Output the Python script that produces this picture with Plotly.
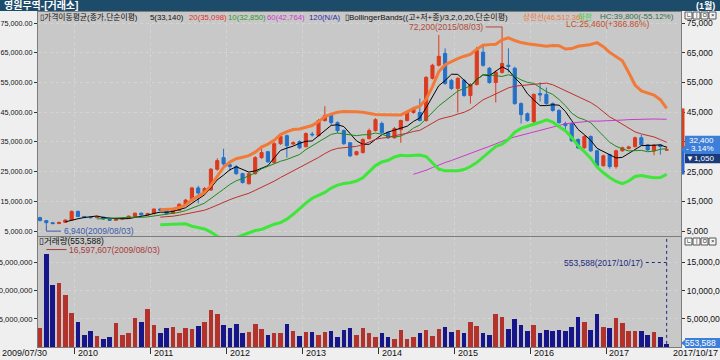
import numpy as np
import pandas as pd
import plotly.graph_objects as go

# ---------------- data ----------------
months = pd.period_range("2009-07", "2017-10", freq="M").strftime("%Y/%m").tolist()

opens = [9500, 8500, 7800, 7500, 7900, 8700, 11600, 9900, 9600, 9500,
         9700, 9000, 8600, 9000, 9300, 9800, 11000, 10400, 10800, 12400,
         11800, 10900, 11900, 13900, 15200, 19500, 17800, 18800, 25800, 29700,
         27300, 26700, 24300, 20900, 24300, 29700, 31700, 28000, 34400, 37100,
         34300, 35100, 33400, 37600, 37100, 42200, 43900, 41500, 38800, 34700,
         30700, 31400, 36100, 38800, 41200, 38100, 36400, 39100, 42200, 44900,
         44900, 42200, 56400, 60800, 64800, 55700, 53000, 55700, 50600, 54300,
         65200, 59800, 55000, 58400, 60800, 59800, 47900, 44500, 41800, 51300,
         51000, 47900, 45600, 41200, 41200, 35800, 33000, 36800, 32000, 27000,
         30700, 26700, 32000, 32800, 33400, 36400, 34000, 32000, 34000, 32200]
highs = [9800, 8700, 8000, 8100, 8900, 11900, 11900, 10000, 9800, 9900,
         9800, 9200, 9200, 9500, 10200, 11200, 11200, 11100, 12600, 12800,
         12000, 12200, 14300, 15800, 19900, 20200, 19800, 26200, 29500, 32700,
         28000, 27200, 24600, 24700, 30200, 33700, 32000, 34900, 38000, 37500,
         35200, 35500, 38200, 38400, 42700, 47000, 44400, 41900, 39200, 35000,
         32000, 36200, 39500, 43000, 41800, 38500, 40000, 42500, 45700, 46800,
         49600, 57200, 61300, 71000, 66500, 56200, 56800, 56200, 54800, 67000,
         68000, 60200, 59000, 72200, 66500, 60300, 48300, 44900, 51300, 55000,
         53300, 48300, 46000, 41800, 41500, 36200, 37300, 37200, 32300, 30700,
         31000, 32400, 33400, 33700, 36800, 37400, 34300, 34300, 34200, 33500]
lows = [8300, 6940, 7300, 7400, 7800, 8600, 9700, 9300, 9200, 9300,
        8800, 8400, 8500, 8900, 9200, 9700, 10200, 10300, 10700, 11700,
        10500, 10800, 11700, 13600, 15000, 14300, 17200, 18500, 25300, 27000,
        25200, 23900, 21000, 20700, 24000, 29300, 28000, 27700, 34000, 29700,
        33900, 32600, 33100, 36800, 36900, 41800, 40800, 38000, 34000, 29900,
        30400, 31100, 35800, 38500, 37700, 36000, 36100, 34700, 41900, 44500,
        41900, 41800, 56000, 60400, 54200, 52500, 44900, 50200, 47900, 54000,
        60300, 54600, 48300, 58000, 58400, 47500, 41200, 41800, 40500, 48600,
        47500, 45200, 41100, 39300, 35000, 32600, 32700, 31600, 26600, 26700,
        26000, 26000, 31700, 32500, 33100, 33700, 32000, 30500, 30700, 32000]
closes = [8500, 7800, 7500, 7900, 8700, 11600, 9900, 9600, 9500, 9700,
          9000, 8600, 9000, 9300, 10000, 11000, 10400, 10900, 12400, 12000,
          10800, 11900, 14000, 15400, 19500, 17800, 19300, 25800, 28700, 27600,
          26700, 24300, 21300, 24300, 29700, 31400, 28300, 34400, 36800, 33700,
          34700, 33000, 37800, 37400, 42200, 43900, 41500, 38800, 34400, 30300,
          31700, 35800, 38800, 42500, 38100, 36400, 39500, 42200, 45200, 46200,
          42200, 56700, 60800, 63800, 54700, 53000, 56400, 50600, 54300, 65800,
          60800, 55000, 58400, 61400, 60400, 47900, 44200, 42200, 51000, 50800,
          47900, 45600, 41500, 40500, 35400, 33000, 36800, 32000, 27000, 30300,
          26700, 32000, 33000, 33300, 36400, 34000, 32300, 33800, 33450, 32400]
volumes = [3400000, 16597607, 11000000, 11400000, 9200000, 6100000, 4400000, 2200000, 2900000, 2000000,
           1400000, 1800000, 4200000, 2200000, 2400000, 5100000, 4400000, 6800000, 3900000, 2400000,
           3400000, 3600000, 2500000, 3400000, 3200000, 3700000, 4400000, 6600000, 5800000, 3900000,
           3400000, 4100000, 2400000, 2700000, 4100000, 3200000, 2200000, 2400000, 2500000, 4100000,
           2900000, 2000000, 2700000, 2700000, 2200000, 2700000, 2900000, 1800000, 3000000, 3400000,
           2200000, 3400000, 2500000, 1700000, 2500000, 1800000, 1500000, 3000000, 1400000, 1700000,
           2500000, 3000000, 2000000, 3200000, 3600000, 2700000, 3000000, 2400000, 4400000, 3700000,
           2400000, 2200000, 5900000, 5400000, 3200000, 4900000, 3900000, 2900000, 3900000, 2400000,
           3000000, 2900000, 3000000, 2900000, 3600000, 5400000, 4400000, 3000000, 5900000, 3600000,
           3400000, 5100000, 4200000, 2900000, 2900000, 2900000, 2200000, 2700000, 1800000, 553588]

year_labels = ["2010", "2011", "2012", "2013", "2014", "2015", "2016", "2017"]
first_date_label = "2009/07/30"
last_date_label = "2017/10/17"
price_ticks = [5000, 15000, 25000, 35000, 45000, 55000, 65000, 75000]
volume_ticks = [5000000, 10000000, 15000000]
ma_periods = [5, 10, 20, 60]
legend_items = ["▯가격이동평균(종가,단순이평)", "5(33,140)", "20(35,098)", "10(32,850)", "60(42,764)",
                "120(N/A)", "▯BollingerBands((고+저+종)/3,2,0,20,단순이평)", "상한선(46,512.36)", "하한"]
hc_text = "HC:39,800(-55.12%)"
lc_text = "LC:25,460(+366.86%)"
low_date = "2009/08/03"
high_date = "2015/08/03"
vol_high_date = "2009/08/03"

n = len(months)
for arr in (opens, highs, lows, closes, volumes):
    assert len(arr) == n

# ---------------- indicators ----------------
s_close = pd.Series(closes, dtype=float)
mas = {p: s_close.rolling(p).mean() for p in ma_periods}
tp = (pd.Series(highs, dtype=float) + pd.Series(lows, dtype=float) + s_close) / 3
bb_mid = tp.rolling(20).mean()
bb_sd = tp.rolling(20).std(ddof=0)
bb_up = bb_mid + 2 * bb_sd
bb_lo = bb_mid - 2 * bb_sd

# ---------------- geometry ----------------
W, H = 720, 360
SLOT, X0 = 6.33, 40.0
XL, XR = 38, 681
P_TOP, P_BOT = 12, 236
V_TOP, V_BOT = 237, 347
x_range = [(XL - X0) / SLOT, (XR - X0) / SLOT]
price_range = [5000 - (P_BOT - 231) / 29.7 * 10000, 5000 + (231 - P_TOP) / 29.7 * 10000]
vol_range = [0, (V_BOT - V_TOP) / 5.633 * 1e6]


def px(v):
    return v / W


def py(v):
    return 1 - v / H


def price_py(p):
    return py(P_BOT - (p - price_range[0]) / (price_range[1] - price_range[0]) * (P_BOT - P_TOP))


def vol_py(v):
    return py(V_BOT - (v - vol_range[0]) / (vol_range[1] - vol_range[0]) * (V_BOT - V_TOP))


idx = list(range(n))
year_ticks = [months.index(f"{y}/01") - 0.5 for y in year_labels]

RED, BLUE = "#dc3a1e", "#2470c8"
VRED, VBLUE = "#b4322c", "#16168a"
NUMF = "Liberation Sans, Arial, sans-serif"
KRF = "Liberation Sans, Noto Sans CJK KR, sans-serif"

fig = go.Figure()
fig.add_trace(go.Candlestick(
    x=idx, open=opens, high=highs, low=lows, close=closes,
    increasing=dict(line=dict(color=RED, width=1), fillcolor=RED),
    decreasing=dict(line=dict(color=BLUE, width=1), fillcolor=BLUE),
    whiskerwidth=0, xaxis="x", yaxis="y", hoverinfo="skip", showlegend=False))

ma_colors = {5: "#000000", 10: "#1e8a1e", 20: "#c0302c", 60: "#c83cc8"}
for p in ma_periods:
    fig.add_trace(go.Scatter(x=idx, y=mas[p], mode="lines", line=dict(color=ma_colors[p], width=1),
                             xaxis="x", yaxis="y2", hoverinfo="skip", showlegend=False))
fig.add_trace(go.Scatter(x=idx, y=bb_up, mode="lines", line=dict(color="#f27a38", width=3),
                         xaxis="x", yaxis="y2", hoverinfo="skip", showlegend=False))
fig.add_trace(go.Scatter(x=idx, y=bb_lo, mode="lines", line=dict(color="#3ee63a", width=3),
                         xaxis="x", yaxis="y2", hoverinfo="skip", showlegend=False))

vcolors = [VRED] + [VRED if closes[i] > closes[i - 1] else VBLUE for i in range(1, n)]
fig.add_trace(go.Bar(x=idx, y=volumes, marker=dict(color=vcolors, line=dict(width=0)), width=0.72,
                     xaxis="x2", yaxis="y3", hoverinfo="skip", showlegend=False))
fig.add_trace(go.Scatter(x=idx, y=volumes, mode="lines", line=dict(width=0), opacity=0,
                         xaxis="x2", yaxis="y4", hoverinfo="skip", showlegend=False))

grid = dict(showgrid=True, gridcolor="#d4d4d4", griddash="dot", gridwidth=1)
axline = dict(showline=True, linecolor="#7c7c7c", linewidth=1)
fig.update_layout(
    width=W, height=H, margin=dict(l=0, r=0, t=0, b=0, autoexpand=False),
    paper_bgcolor="#efefef", plot_bgcolor="#c8c8c8", bargap=0,
    font=dict(family=NUMF, size=8, color="#111"),
    xaxis=dict(domain=[px(XL), px(XR)], range=x_range, anchor="y", tickvals=year_ticks,
               showticklabels=False, ticks="", zeroline=False, rangeslider=dict(visible=False),
               mirror=True, automargin=False, **grid, **axline),
    xaxis2=dict(domain=[px(XL), px(XR)], range=x_range, anchor="y3", matches="x", tickvals=year_ticks,
                showticklabels=False, ticks="outside", ticklen=6, tickcolor="#333", zeroline=False,
                mirror=True, automargin=False, **grid, **axline),
    yaxis=dict(domain=[py(P_BOT), py(P_TOP)], range=price_range, anchor="x", side="left",
               tickvals=price_ticks, ticktext=[f"{v:,.2f}" for v in price_ticks],
               ticks="outside", ticklen=3, tickcolor="#333", tickfont=dict(size=7.2, family=NUMF),
               zeroline=False, mirror=True, automargin=False, **grid, **axline),
    yaxis2=dict(range=price_range, overlaying="y", anchor="x", side="right",
                tickvals=price_ticks, ticktext=[f"{v:,}" for v in price_ticks],
                ticks="outside", ticklen=3, tickcolor="#333", tickfont=dict(size=8.5, family=NUMF),
                showgrid=False, zeroline=False, automargin=False),
    yaxis3=dict(domain=[py(V_BOT), py(V_TOP)], range=vol_range, anchor="x2", side="left",
                tickvals=volume_ticks, ticktext=[f"{v:,}" for v in volume_ticks],
                ticks="outside", ticklen=3, tickcolor="#333", tickfont=dict(size=7.6, family=NUMF),
                zeroline=False, mirror=True, automargin=False, **grid, **axline),
    yaxis4=dict(range=vol_range, overlaying="y3", anchor="x2", side="right",
                tickvals=volume_ticks, ticktext=[f"{v:,}" for v in volume_ticks],
                ticks="outside", ticklen=3, tickcolor="#333", tickfont=dict(size=8.5, family=NUMF),
                showgrid=False, zeroline=False, automargin=False),
)

shapes = []
ann = []

# header bar
shapes.append(dict(type="rect", xref="paper", yref="paper", x0=0, x1=1, y0=py(11), y1=1,
                   fillcolor="#1d4b6a", line=dict(width=0), layer="above"))
ann.append(dict(xref="paper", yref="paper", x=px(2), y=py(5.5), xanchor="left", yanchor="middle",
                text="<b>영원무역-[거래소]</b>", showarrow=False,
                font=dict(family=KRF, size=10, color="white")))
ann.append(dict(xref="paper", yref="paper", x=px(717), y=py(5.5), xanchor="right", yanchor="middle",
                text="<b>(1월)</b>", showarrow=False, font=dict(family=KRF, size=9, color="white")))

# indicator legend line (each item at its own position)
leg_x = [38, 148, 187, 226, 265, 307, 343, 521, 576]
leg_col = ["#111", "#111", "#e0302c", "#2e9a2e", "#c83cc8", "#2c2ca0", "#111", "#f07a3c", "#3ed03a"]
leg_size = [7.8, 7.8, 7.8, 7.8, 7.8, 7.8, 8, 7.6, 7.6]
for t, xx, c, s in zip(legend_items, leg_x, leg_col, leg_size):
    ann.append(dict(xref="paper", yref="paper", x=px(xx), y=py(17), xanchor="left", yanchor="middle",
                    text=t, showarrow=False, font=dict(family=KRF, size=s, color=c)))
ann.append(dict(xref="paper", yref="paper", x=px(676), y=py(16.5), xanchor="right", yanchor="middle",
                text=hc_text, showarrow=False, font=dict(family=KRF, size=8, color="#2e6e4e")))
ann.append(dict(xref="paper", yref="paper", x=px(652), y=py(24.5), xanchor="right", yanchor="middle",
                text=lc_text, showarrow=False, font=dict(family=KRF, size=8.5, color="#c4502c")))

# high marker
hi_i = int(np.argmax(highs))
hi_v = highs[hi_i]
lab_y = hi_v + 1500
shapes.append(dict(type="path", xref="x", yref="y",
                   path=f"M {hi_i-2.6},{lab_y} L {hi_i},{lab_y} L {hi_i},{hi_v}",
                   line=dict(color="#b04a3a", width=1)))
ann.append(dict(xref="x", yref="y", x=hi_i - 2.7, y=lab_y, xanchor="right", yanchor="middle",
                text=f"{hi_v:,}({high_date})", showarrow=False,
                font=dict(family=NUMF, size=8.5, color="#b04a3a")))

# low marker
lo_i = int(np.argmin(lows))
lo_v = lows[lo_i]
base_y = 4950
shapes.append(dict(type="path", xref="x", yref="y",
                   path=f"M {lo_i},{lo_v} L {lo_i},{base_y} L {lo_i+2.3},{base_y}",
                   line=dict(color="#3a5aa8", width=1)))
ann.append(dict(xref="x", yref="y", x=lo_i + 2.4, y=base_y, xanchor="left", yanchor="middle",
                text=f"{lo_v:,}({low_date})", showarrow=False,
                font=dict(family=NUMF, size=8.5, color="#3a5aa8")))

# top-right icons
for y_top in (12, 238):
    for k, g in enumerate(["ㄴ", "ㅣ", "ㅁ", "×"]):
        x0 = 685 + k * 8
        shapes.append(dict(type="rect", xref="paper", yref="paper", x0=px(x0), x1=px(x0 + 7),
                           y0=py(y_top + 7), y1=py(y_top), fillcolor="#f8f8f8",
                           line=dict(color="#555", width=1)))
        ann.append(dict(xref="paper", yref="paper", x=px(x0 + 3.5), y=py(y_top + 3.5), text=g,
                        showarrow=False, font=dict(family=KRF, size=6, color="#222"),
                        xanchor="center", yanchor="middle"))

# current price range bar and box
last = closes[-1]
prev = closes[-2]
chg = last - prev
pct = chg / prev * 100
up_last = float(bb_up.iloc[-1])
lo_last = float(bb_lo.iloc[-1])
shapes.append(dict(type="rect", xref="paper", yref="paper", x0=px(682), x1=px(684.5),
                   y0=price_py(last), y1=price_py(up_last), fillcolor="#d8401e", line=dict(width=0)))
shapes.append(dict(type="rect", xref="paper", yref="paper", x0=px(682), x1=px(684.5),
                   y0=price_py(lo_last), y1=price_py(last), fillcolor="#2a6ad0", line=dict(width=0)))
shapes.append(dict(type="rect", xref="paper", yref="paper", x0=px(685), x1=1,
                   y0=price_py(last - 1500), y1=price_py(last + 4700), fillcolor="#3d7fd8",
                   line=dict(width=0)))
shapes.append(dict(type="rect", xref="paper", yref="paper", x0=px(685), x1=1,
                   y0=price_py(last - 4600), y1=price_py(last - 1500), fillcolor="#1a3a78",
                   line=dict(width=0)))
shapes.append(dict(type="path", xref="paper", yref="paper",
                   path=f"M {px(681)},{price_py(last)} L {px(686)},{price_py(last + 1600)} "
                        f"L {px(686)},{price_py(last - 1600)} Z",
                   fillcolor="#3d7fd8", line=dict(width=0)))
for txt, dv in [(f"{last:,}", 3000), (f"{pct:.2f}%".replace("-", "- "), 250), (f"▼{abs(chg):,}", -2900)]:
    ann.append(dict(xref="paper", yref="paper", x=px(716), y=price_py(last + dv), xanchor="right",
                    yanchor="middle", text=txt, showarrow=False,
                    font=dict(family=NUMF, size=8, color="white")))

# volume panel texts
ann.append(dict(xref="paper", yref="paper", x=px(37), y=py(241.5), xanchor="left", yanchor="middle",
                text=f"▯거래량({volumes[-1]:,})", showarrow=False,
                font=dict(family=KRF, size=8.5, color="#111")))
vh_i = int(np.argmax(volumes))
vh_v = volumes[vh_i]
vlab = vh_v + 700000
shapes.append(dict(type="line", xref="x2", yref="y3", x0=vh_i, x1=vh_i + 3.2, y0=vlab, y1=vlab,
                   line=dict(color="#a83a3a", width=1)))
ann.append(dict(xref="x2", yref="y3", x=vh_i + 3.3, y=vlab, xanchor="left", yanchor="middle",
                text=f"{vh_v:,}({vol_high_date})", showarrow=False,
                font=dict(family=NUMF, size=8.5, color="#a83a3a")))
li = n - 1
shapes.append(dict(type="line", xref="x2", yref="y3", x0=li - 3.3, x1=li, y0=15000000, y1=15000000,
                   line=dict(color="#1a2a80", width=1, dash="dot")))
shapes.append(dict(type="line", xref="x2", yref="paper", x0=li, x1=li, y0=vol_py(volumes[-1]), y1=py(V_TOP),
                   line=dict(color="#1a2a80", width=1, dash="dot")))
ann.append(dict(xref="x2", yref="y3", x=li - 3.4, y=15000000, xanchor="right", yanchor="middle",
                text=f"{volumes[-1]:,}({last_date_label})", showarrow=False,
                font=dict(family=NUMF, size=8.5, color="#1a2a80")))
shapes.append(dict(type="rect", xref="paper", yref="paper", x0=px(685), x1=1,
                   y0=py(348), y1=py(338), fillcolor="#3d7fd8", line=dict(width=0)))
shapes.append(dict(type="path", xref="paper", yref="paper",
                   path=f"M {px(681)},{py(343)} L {px(686)},{py(339)} L {px(686)},{py(347)} Z",
                   fillcolor="#3d7fd8", line=dict(width=0)))
ann.append(dict(xref="paper", yref="paper", x=px(718), y=py(343), xanchor="right", yanchor="middle",
                text=f"{volumes[-1]:,}", showarrow=False, font=dict(family=NUMF, size=8.5, color="white")))

# x-axis date labels
for yl, tv in zip(year_labels, year_ticks):
    ann.append(dict(xref="x2", yref="paper", x=tv + 0.15, y=py(353), xanchor="left", yanchor="middle",
                    text=yl, showarrow=False, font=dict(family=NUMF, size=9, color="#111")))
ann.append(dict(xref="paper", yref="paper", x=0, y=py(353), xanchor="left", yanchor="middle",
                text=first_date_label, showarrow=False, font=dict(family=NUMF, size=9, color="#111")))
ann.append(dict(xref="paper", yref="paper", x=1, y=py(353), xanchor="right", yanchor="middle",
                text=last_date_label, showarrow=False, font=dict(family=NUMF, size=9, color="#111")))

fig.update_layout(shapes=shapes, annotations=ann)
fig.write_html("out.html", config={"displayModeBar": False},
               post_script="document.body.style.margin='0';document.body.style.overflow='hidden';")
